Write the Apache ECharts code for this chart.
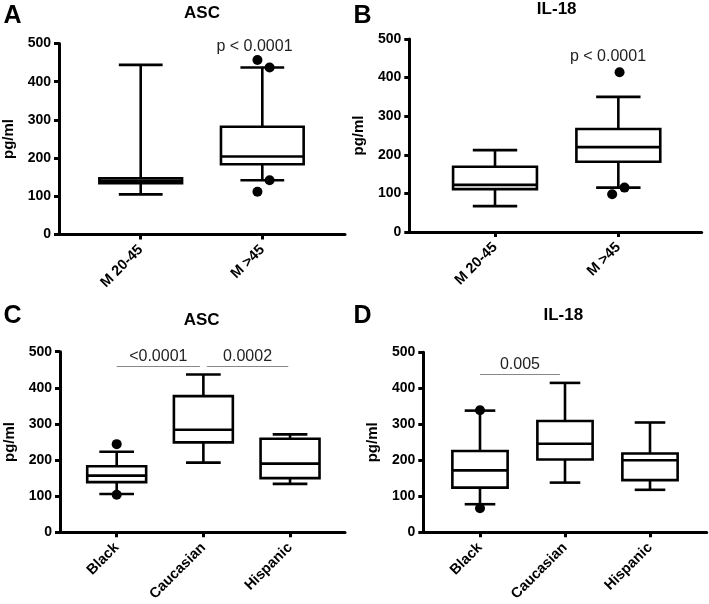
<!DOCTYPE html>
<html><head><meta charset="utf-8">
<script src="https://cdn.jsdelivr.net/npm/echarts@6/dist/echarts.min.js"></script>
<style>html,body{margin:0;padding:0;background:#fff}#c{width:709px;height:604px}</style>
</head><body><div id="c"></div>
<script>
// ---- data ----
const catsAge = ['M 20-45', 'M >45'];
const catsRace = ['Black', 'Caucasian', 'Hispanic'];
const yMin = 0, yMax = 500, yStep = 100;
// box stats per category: [min, Q1, median, Q3, max]
const ascAgeBoxes = [[105, 134, 140, 147, 444], [142, 184, 204, 282, 437]];
const ascAgeOutliers = [[0.96, 457], [1.06, 437], [1.06, 142], [0.96, 112]];
const il18AgeBoxes = [[67, 111, 122, 169, 212], [115, 182, 220, 267, 350]];
const il18AgeOutliers = [[1.01, 414], [1.05, 115], [0.95, 98]];
const ascRaceBoxes = [[106, 139, 157, 183, 223], [193, 249, 284, 377, 437], [134, 150, 190, 259, 271]];
const ascRaceOutliers = [[0, 244], [0, 104]];
const il18RaceBoxes = [[78, 124, 172, 226, 338], [138, 202, 246, 309, 415], [118, 145, 200, 219, 305]];
const il18RaceOutliers = [[0, 339], [0, 67]];
const ascRaceBrackets = [[0, 0.96, 461, '<0.0001'], [1.04, 1.98, 461, '0.0002']];
const il18RaceBrackets = [[0, 0.94, 440, '0.005']];
const pAgeText = 'p < 0.0001';

// ---- chart ----
const F = "'Liberation Sans', Arial, Helvetica, sans-serif";
const LW = 2.6, AW = 3;
const panels = [
  {grid: {left: 58, top: 43.5, width: 287, height: 191}, xmin: -0.672, xmax: 1.68, cats: catsAge, boxes: ascAgeBoxes, outliers: ascAgeOutliers, boxW: 0.68, capW: 0.36},
  {grid: {left: 409.3, top: 39, width: 292.4, height: 193}, xmin: -0.695, xmax: 1.676, cats: catsAge, boxes: il18AgeBoxes, outliers: il18AgeOutliers, boxW: 0.68, capW: 0.36},
  {grid: {left: 60, top: 351.7, width: 285, height: 185.6}, xmin: -0.654, xmax: 2.634, cats: catsRace, boxes: ascRaceBoxes, outliers: ascRaceOutliers, brackets: ascRaceBrackets, boxW: 0.68, capW: 0.4},
  {grid: {left: 423.3, top: 352.3, width: 283.4, height: 186}, xmin: -0.667, xmax: 2.667, cats: catsRace, boxes: il18RaceBoxes, outliers: il18RaceOutliers, brackets: il18RaceBrackets, boxW: 0.65, capW: 0.36}
];

const grids = [], xAxes = [], yAxes = [], series = [];
panels.forEach((p, k) => {
  grids.push(Object.assign({containLabel: false}, p.grid));
  const idx = p.cats.map((_, i) => i);
  xAxes.push({
    type: 'value', gridIndex: k, min: p.xmin, max: p.xmax,
    splitLine: {show: false},
    axisLine: {show: true, onZero: false, lineStyle: {color: '#000', width: AW}},
    axisTick: {show: true, customValues: idx, length: 5, lineStyle: {color: '#000', width: AW}},
    axisLabel: {show: true, customValues: idx, rotate: 45, margin: 13, formatter: v => p.cats[Math.round(v)] || '',
      color: '#000', fontWeight: 'bold', fontSize: 14.5, fontFamily: F}
  });
  yAxes.push({
    type: 'value', gridIndex: k, min: yMin, max: yMax, interval: yStep,
    name: 'pg/ml', nameLocation: 'middle', nameGap: 43, nameRotate: 90,
    nameTextStyle: {color: '#000', fontWeight: 'bold', fontSize: 15, fontFamily: F},
    splitLine: {show: false},
    axisLine: {show: true, onZero: false, lineStyle: {color: '#000', width: AW}},
    axisTick: {show: true, length: 5, lineStyle: {color: '#000', width: AW}},
    axisLabel: {color: '#000', fontWeight: 'bold', fontSize: 14, fontFamily: F, margin: 8}
  });
  const boxW = p.boxW, capW = p.capW;
  const s = {
    type: 'custom', xAxisIndex: k, yAxisIndex: k, silent: true,
    data: p.boxes.map((b, i) => [i].concat(b)),
    encode: {x: 0, y: [1, 2, 3, 4, 5]},
    renderItem: function (params, api) {
      const x = api.value(0);
      const c = y => api.coord([x, y]);
      const bw = api.size([boxW, 0])[0], cw = api.size([capW, 0])[0];
      const pMin = c(api.value(1)), pQ1 = c(api.value(2)), pMed = c(api.value(3)), pQ3 = c(api.value(4)), pMax = c(api.value(5));
      const cx = pMin[0];
      const st = {stroke: '#000', lineWidth: LW, fill: null};
      return {type: 'group', children: [
        {type: 'line', shape: {x1: cx, y1: pMin[1], x2: cx, y2: pQ1[1]}, style: st},
        {type: 'line', shape: {x1: cx, y1: pQ3[1], x2: cx, y2: pMax[1]}, style: st},
        {type: 'line', shape: {x1: cx - cw / 2, y1: pMin[1], x2: cx + cw / 2, y2: pMin[1]}, style: st},
        {type: 'line', shape: {x1: cx - cw / 2, y1: pMax[1], x2: cx + cw / 2, y2: pMax[1]}, style: st},
        {type: 'rect', shape: {x: cx - bw / 2, y: pQ3[1], width: bw, height: pQ1[1] - pQ3[1]}, style: {stroke: '#000', lineWidth: LW, fill: '#fff'}},
        {type: 'line', shape: {x1: cx - bw / 2, y1: pMed[1], x2: cx + bw / 2, y2: pMed[1]}, style: st}
      ]};
    }
  };
  if (p.brackets) {
    s.markLine = {
      silent: true, symbol: 'none', animation: false,
      lineStyle: {color: '#888', width: 1, type: 'solid'},
      label: {show: true, position: 'middle', distance: 1, color: '#222', fontSize: 16, fontFamily: F, formatter: q => q.name},
      data: p.brackets.map(b => [{coord: [b[0], b[2]], name: b[3]}, {coord: [b[1], b[2]]}])
    };
  }
  series.push(s);
  series.push({
    type: 'scatter', xAxisIndex: k, yAxisIndex: k, silent: true, z: 5,
    symbol: 'circle', symbolSize: 10, itemStyle: {color: '#000', opacity: 1},
    data: p.outliers
  });
});

function txt(t, x, y, size, weight, color) {
  return {type: 'text', x: x, y: y, silent: true, style: {text: t, fill: color || '#000',
    font: (weight || 'normal') + ' ' + size + 'px ' + F, textAlign: 'center', textVerticalAlign: 'middle', align: 'center', verticalAlign: 'middle'}};
}

const option = {
  animation: false,
  grid: grids, xAxis: xAxes, yAxis: yAxes, series: series,
  graphic: [
    txt('A', 12.5, 16, 25, 'bold'), txt('B', 362.5, 16, 25, 'bold'),
    txt('C', 12.5, 316, 25, 'bold'), txt('D', 362.5, 316, 25, 'bold'),
    txt('ASC', 202, 13.7, 17, 'bold'), txt('IL-18', 556.7, 9.5, 17, 'bold'),
    txt('ASC', 201.7, 320.8, 17, 'bold'), txt('IL-18', 563.3, 315.8, 17, 'bold'),
    txt(pAgeText, 254.5, 46.7, 16, 'normal', '#222'), txt(pAgeText, 608, 56.7, 16, 'normal', '#222')
  ]
};
const chart = echarts.init(document.getElementById('c'));
chart.setOption(option);
</script></body></html>
